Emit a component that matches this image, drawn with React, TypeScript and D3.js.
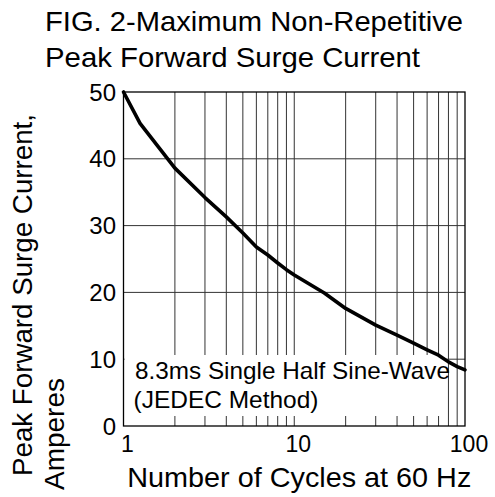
import React from "react";
import * as d3 from "d3";

const cycles = [1, 1.25, 2, 3, 4, 5, 6, 7, 8, 9, 10, 15, 20, 30, 40, 50, 60, 70, 80, 90, 100];
const current = [50, 45.3, 38.6, 34.2, 31.3, 28.9, 26.8, 25.6, 24.4, 23.4, 22.6, 19.9, 17.6, 15.1, 13.6, 12.4, 11.4, 10.6, 9.6, 8.9, 8.4];
const yTicks = [0, 10, 20, 30, 40, 50];
const xTickLabels = [1, 10, 100];
const xGrid = [2, 3, 4, 5, 6, 7, 8, 9, 10, 20, 30, 40, 50, 60, 70, 80, 90];
const titleLines = ["FIG. 2-Maximum Non-Repetitive", "Peak Forward Surge Current"];
const yTitleLines = ["Peak Forward Surge Current,", "Amperes"];
const xTitle = "Number of Cycles at 60 Hz";
const noteLines = ["8.3ms Single Half Sine-Wave", "(JEDEC Method)"];

const W = 495, H = 497;
const L = 123.5, R = 465, T = 92, B = 426;
const FONT = "'Liberation Sans', Arial, Helvetica, sans-serif";

export default function App() {
  const x = d3.scaleLog().domain([1, 100]).range([L, R]);
  const y = d3.scaleLinear().domain([0, 50]).range([B, T]);
  const data = cycles.map((c, i) => [c, current[i]] as [number, number]);
  const line = d3.line<[number, number]>().x(d => x(d[0])).y(d => y(d[1])).curve(d3.curveLinear);
  const box = { x0: L + 1, x1: 446, y0: 355, y1: 416 };
  const gridColor = "#333";
  return (
    <svg width={W} height={H} style={{ position: "absolute", left: 0, top: 0, background: "#fff" }} fontFamily={FONT}>
      <rect x={0} y={0} width={W} height={H} fill="#fff" />
      {/* title */}
      <text x={45} y={31} fontSize={28} textLength={418} lengthAdjust="spacingAndGlyphs" fill="#000">{titleLines[0]}</text>
      <text x={45} y={66.5} fontSize={28} textLength={375} lengthAdjust="spacingAndGlyphs" fill="#000">{titleLines[1]}</text>
      {/* grid */}
      {xGrid.map(v => (
        <line key={"gx" + v} x1={x(v)} x2={x(v)} y1={T} y2={B} stroke={gridColor} strokeWidth={1} />
      ))}
      {yTicks.filter(v => v > 0 && v < 50).map(v => (
        <line key={"gy" + v} x1={L} x2={R} y1={y(v)} y2={y(v)} stroke={gridColor} strokeWidth={1} />
      ))}
      {/* note box */}
      <rect x={box.x0} y={box.y0} width={box.x1 - box.x0} height={box.y1 - box.y0} fill="#fff" />
      <text x={135} y={379} fontSize={24} textLength={315} lengthAdjust="spacingAndGlyphs" fill="#000">{noteLines[0]}</text>
      <text x={133.5} y={407.5} fontSize={24} textLength={185} lengthAdjust="spacingAndGlyphs" fill="#000">{noteLines[1]}</text>
      {/* frame */}
      <rect x={L} y={T} width={R - L} height={B - T} fill="none" stroke="#000" strokeWidth={1.3} />
      {/* curve */}
      <path d={line(data) || ""} fill="none" stroke="#000" strokeWidth={3.6} strokeLinejoin="round" strokeLinecap="round" />
      {/* y tick labels */}
      {yTicks.map(v => (
        <text key={"yl" + v} x={116} y={y(v)} dy="0.36em" fontSize={24} textAnchor="end" fill="#000">{v}</text>
      ))}
      {/* x tick labels */}
      {xTickLabels.map(v => (
        <text key={"xl" + v} x={x(v) + 4} y={452} fontSize={23} textAnchor="middle" fill="#000">{v}</text>
      ))}
      {/* x title */}
      <text x={127.3} y={486.5} fontSize={28} textLength={344} lengthAdjust="spacingAndGlyphs" fill="#000">{xTitle}</text>
      {/* y title */}
      <g transform="translate(32,476) rotate(-90)">
        <text x={0} y={0} fontSize={28} textLength={362} lengthAdjust="spacingAndGlyphs" fill="#000">{yTitleLines[0]}</text>
      </g>
      <g transform="translate(64,490) rotate(-90)">
        <text x={0} y={0} fontSize={28} textLength={112} lengthAdjust="spacingAndGlyphs" fill="#000">{yTitleLines[1]}</text>
      </g>
    </svg>
  );
}
